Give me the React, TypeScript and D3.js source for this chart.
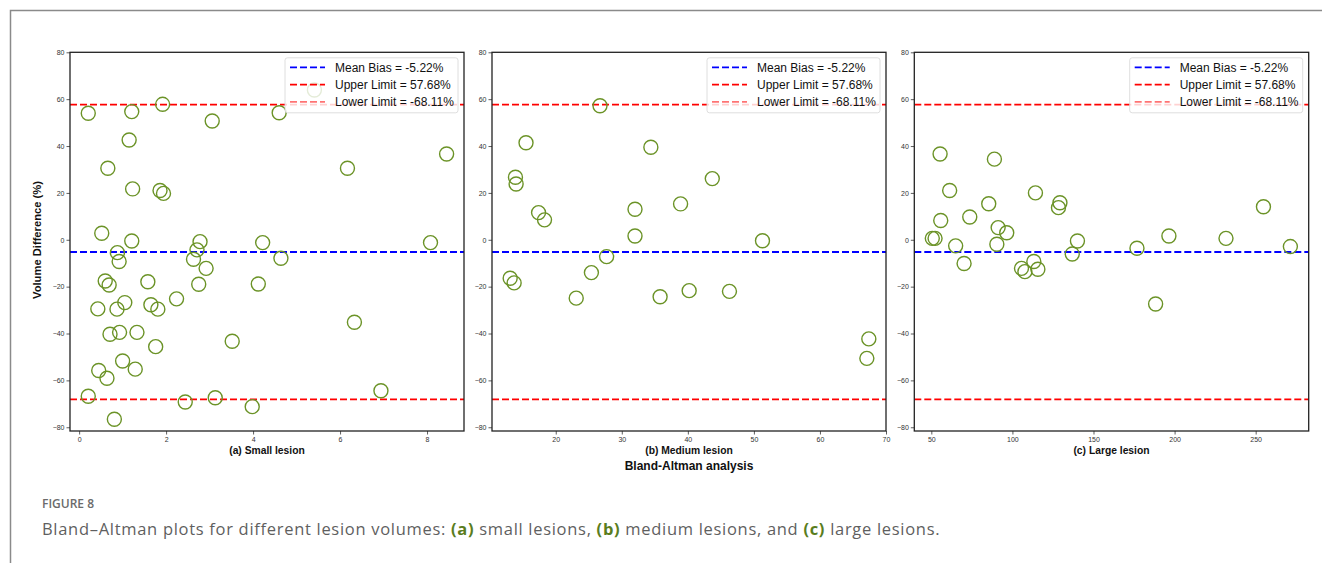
import React, { useRef, useEffect } from 'react';
import * as d3 from 'd3';

// Bland-Altman statistics (same for all panels)
const meanBias = -5.22;
const upperLimit = 57.68;
const lowerLimit = -68.11;

// (a) Small lesion: mean volume vs. volume difference (%)
const smallX = [0.21, 1.21, 1.92, 3.06, 4.60, 5.41, 1.15, 0.66, 6.17, 8.45, 1.23, 1.86, 1.94, 0.52,
  1.21, 2.78, 4.22, 8.08, 2.71, 0.88, 0.92, 2.63, 2.92, 4.64, 0.60, 0.69, 1.58, 2.75, 4.12, 2.24,
  1.05, 0.43, 0.87, 1.65, 1.81, 6.33, 0.71, 0.93, 1.33, 1.76, 3.52, 0.45, 1.00, 1.29, 0.64, 0.21,
  2.44, 3.13, 3.98, 6.94, 0.81];
const smallY = [54.0, 54.7, 57.8, 50.7, 54.2, 63.9, 42.6, 30.5, 30.5, 36.6, 21.7, 21.0, 19.8, 2.8,
  -0.5, -0.8, -1.2, -1.2, -4.3, -5.5, -9.3, -8.3, -12.2, -7.9, -17.6, -19.3, -17.9, -19.0, -18.9, -25.2,
  -26.8, -29.5, -29.6, -27.7, -29.6, -35.2, -40.3, -39.5, -39.5, -45.6, -43.3, -55.8, -51.7, -55.2, -59.1, -66.8,
  -69.2, -67.4, -71.2, -64.4, -76.6];

// (b) Medium lesion
const mediumX = [26.7, 15.5, 34.4, 13.9, 14.0, 43.7, 17.4, 18.3, 32.0, 38.9, 32.0, 51.3, 27.7,
  13.1, 13.7, 25.4, 23.1, 35.8, 40.2, 46.3, 67.4, 67.1];
const mediumY = [57.2, 41.4, 39.5, 26.7, 23.8, 26.1, 11.6, 8.5, 13.0, 15.3, 1.6, -0.4, -7.2,
  -16.4, -18.4, -14.0, -24.9, -24.3, -21.7, -22.0, -42.3, -50.6];

// (c) Large lesion
const largeX = [55.4, 88.9, 61.3, 114.2, 85.4, 129.3, 128.4, 254.8, 73.7, 55.8, 91.2, 96.5,
  50.6, 52.3, 196.5, 231.7, 140.1, 65.0, 90.4, 176.8, 271.4, 136.9, 70.2, 105.6, 107.7, 113.2,
  115.7, 188.3];
const largeY = [36.6, 34.4, 21.0, 20.0, 15.4, 15.8, 13.7, 14.1, 9.7, 8.2, 5.2, 3.0,
  0.6, 0.6, 1.6, 0.6, -0.5, -2.6, -1.9, -3.6, -2.9, -6.1, -10.1, -12.2, -13.6, -9.3,
  -12.6, -27.4];

const panelTitles = ['(a) Small lesion', '(b) Medium lesion', '(c) Large lesion'];
const xTicksSmall = [0, 2, 4, 6, 8];
const xTicksMedium = [20, 30, 40, 50, 60, 70];
const xTicksLarge = [50, 100, 150, 200, 250];
const yTicks = [-80, -60, -40, -20, 0, 20, 40, 60, 80];
const legendLabels = ['Mean Bias = -5.22%', 'Upper Limit = 57.68%', 'Lower Limit = -68.11%'];

const App = () => {
  const chartRef = useRef(null);

  useEffect(() => {
    const width = 1322;
    const height = 563;

    d3.select(chartRef.current).select('svg').remove();

    const svg = d3.select(chartRef.current)
      .append('svg')
      .attr('width', width)
      .attr('height', height)
      .style('position', 'absolute')
      .style('left', 0)
      .style('top', 0)
      .style('background', '#fff');

    // figure frame (top and left edges)
    svg.append('path')
      .attr('d', `M10.5,${height} V10.5 H${width}`)
      .attr('fill', 'none')
      .attr('stroke', '#8a8a8a')
      .attr('stroke-width', 1.5);

    const top = 52.3;
    const bottom = 431;

    const panels = [
      { xs: smallX, ys: smallY, left: 70, right: 464, domain: [-0.21, 8.85], ticks: xTicksSmall },
      { xs: mediumX, ys: mediumY, left: 492, right: 886, domain: [10.35, 70], ticks: xTicksMedium },
      { xs: largeX, ys: largeY, left: 914.3, right: 1308.7, domain: [39.5, 282.7], ticks: xTicksLarge },
    ];

    const font = 'Liberation Sans, Arial, sans-serif';

    panels.forEach((p, i) => {
      const x = d3.scaleLinear().domain(p.domain).range([p.left, p.right]);
      const y = d3.scaleLinear().domain([-81.6, 80]).range([bottom, top]);

      const g = svg.append('g');

      // reference lines
      const refs = [
        { v: meanBias, c: '#0000ff' },
        { v: upperLimit, c: '#ff0000' },
        { v: lowerLimit, c: '#ff0000' },
      ];
      g.selectAll('.ref')
        .data(refs)
        .enter().append('line')
        .attr('x1', p.left)
        .attr('x2', p.right)
        .attr('y1', d => y(d.v))
        .attr('y2', d => y(d.v))
        .attr('stroke', d => d.c)
        .attr('stroke-width', 1.8)
        .attr('stroke-dasharray', '7,3');

      // points
      g.selectAll('.pt')
        .data(p.xs.map((v, k) => [v, p.ys[k]]))
        .enter().append('circle')
        .attr('cx', d => x(d[0]))
        .attr('cy', d => y(d[1]))
        .attr('r', 7)
        .attr('fill', 'none')
        .attr('stroke', '#6b9327')
        .attr('stroke-width', 1.4);

      // axes
      const xAxis = g.append('g')
        .attr('transform', `translate(0,${bottom})`)
        .call(d3.axisBottom(x).tickValues(p.ticks).tickSize(3.5).tickPadding(3));
      const yAxis = g.append('g')
        .attr('transform', `translate(${p.left},0)`)
        .call(d3.axisLeft(y).tickValues(yTicks).tickSize(3.5).tickPadding(2));
      [xAxis, yAxis].forEach(a => {
        a.select('.domain').remove();
        a.selectAll('text').attr('font-size', 7).attr('font-family', font).attr('fill', '#333');
        a.selectAll('line').attr('stroke', '#333').attr('stroke-width', 0.8);
      });

      // spines
      g.append('rect')
        .attr('x', p.left)
        .attr('y', top)
        .attr('width', p.right - p.left)
        .attr('height', bottom - top)
        .attr('fill', 'none')
        .attr('stroke', '#222')
        .attr('stroke-width', 1.3);

      // x label
      g.append('text')
        .attr('x', (p.left + p.right) / 2)
        .attr('y', 454)
        .attr('text-anchor', 'middle')
        .attr('font-family', font)
        .attr('font-weight', 'bold')
        .attr('font-size', 10.3)
        .attr('fill', '#111')
        .text(panelTitles[i]);

      // legend
      const lx = p.right - 179;
      const ly = top + 5.5;
      const lg = g.append('g');
      lg.append('rect')
        .attr('x', lx)
        .attr('y', ly)
        .attr('width', 173)
        .attr('height', 55)
        .attr('rx', 2.5)
        .attr('fill', '#fff')
        .attr('fill-opacity', 0.82)
        .attr('stroke', '#d6d6d6')
        .attr('stroke-width', 0.8);
      legendLabels.forEach((lab, k) => {
        const yy = ly + 9.5 + k * 17.3;
        lg.append('line')
          .attr('x1', lx + 5)
          .attr('x2', lx + 40)
          .attr('y1', yy)
          .attr('y2', yy)
          .attr('stroke', k === 0 ? '#0000ff' : '#ff0000')
          .attr('stroke-opacity', k === 2 ? 0.55 : 1)
          .attr('stroke-width', 1.8)
          .attr('stroke-dasharray', '7,3');
        lg.append('text')
          .attr('x', lx + 50)
          .attr('y', yy + 4.2)
          .attr('font-family', font)
          .attr('font-size', 12)
          .attr('fill', '#111')
          .text(lab);
      });
    });

    // y label
    svg.append('text')
      .attr('transform', 'translate(41,240) rotate(-90)')
      .attr('text-anchor', 'middle')
      .attr('font-family', font)
      .attr('font-weight', 'bold')
      .attr('font-size', 11.2)
      .attr('fill', '#111')
      .text('Volume Difference (%)');

    // super x label
    svg.append('text')
      .attr('x', 689)
      .attr('y', 470)
      .attr('text-anchor', 'middle')
      .attr('font-family', font)
      .attr('font-weight', 'bold')
      .attr('font-size', 12)
      .attr('fill', '#111')
      .text('Bland-Altman analysis');

    // caption
    svg.append('text')
      .attr('x', 42)
      .attr('y', 508)
      .attr('font-family', 'Open Sans, sans-serif')
      .attr('font-weight', 600)
      .attr('font-size', 12)
      .attr('fill', '#6b6b6b')
      .text('FIGURE 8');

    const cap = svg.append('text')
      .attr('x', 42)
      .attr('y', 535)
      .attr('font-family', 'Open Sans, sans-serif')
      .attr('font-size', 16.5)
      .attr('letter-spacing', 0.7)
      .attr('fill', '#5f5f5f');
    const parts = [
      ['Bland–Altman plots for different lesion volumes: ', false],
      ['(a)', true], [' small lesions, ', false],
      ['(b)', true], [' medium lesions, and ', false],
      ['(c)', true], [' large lesions.', false],
    ];
    parts.forEach(([t, b]) => {
      cap.append('tspan')
        .attr('font-weight', b ? 700 : 400)
        .attr('fill', b ? '#5a7d1e' : '#5f5f5f')
        .text(t as string);
    });
  }, []);

  return <div ref={chartRef}></div>;
};

export default App;
